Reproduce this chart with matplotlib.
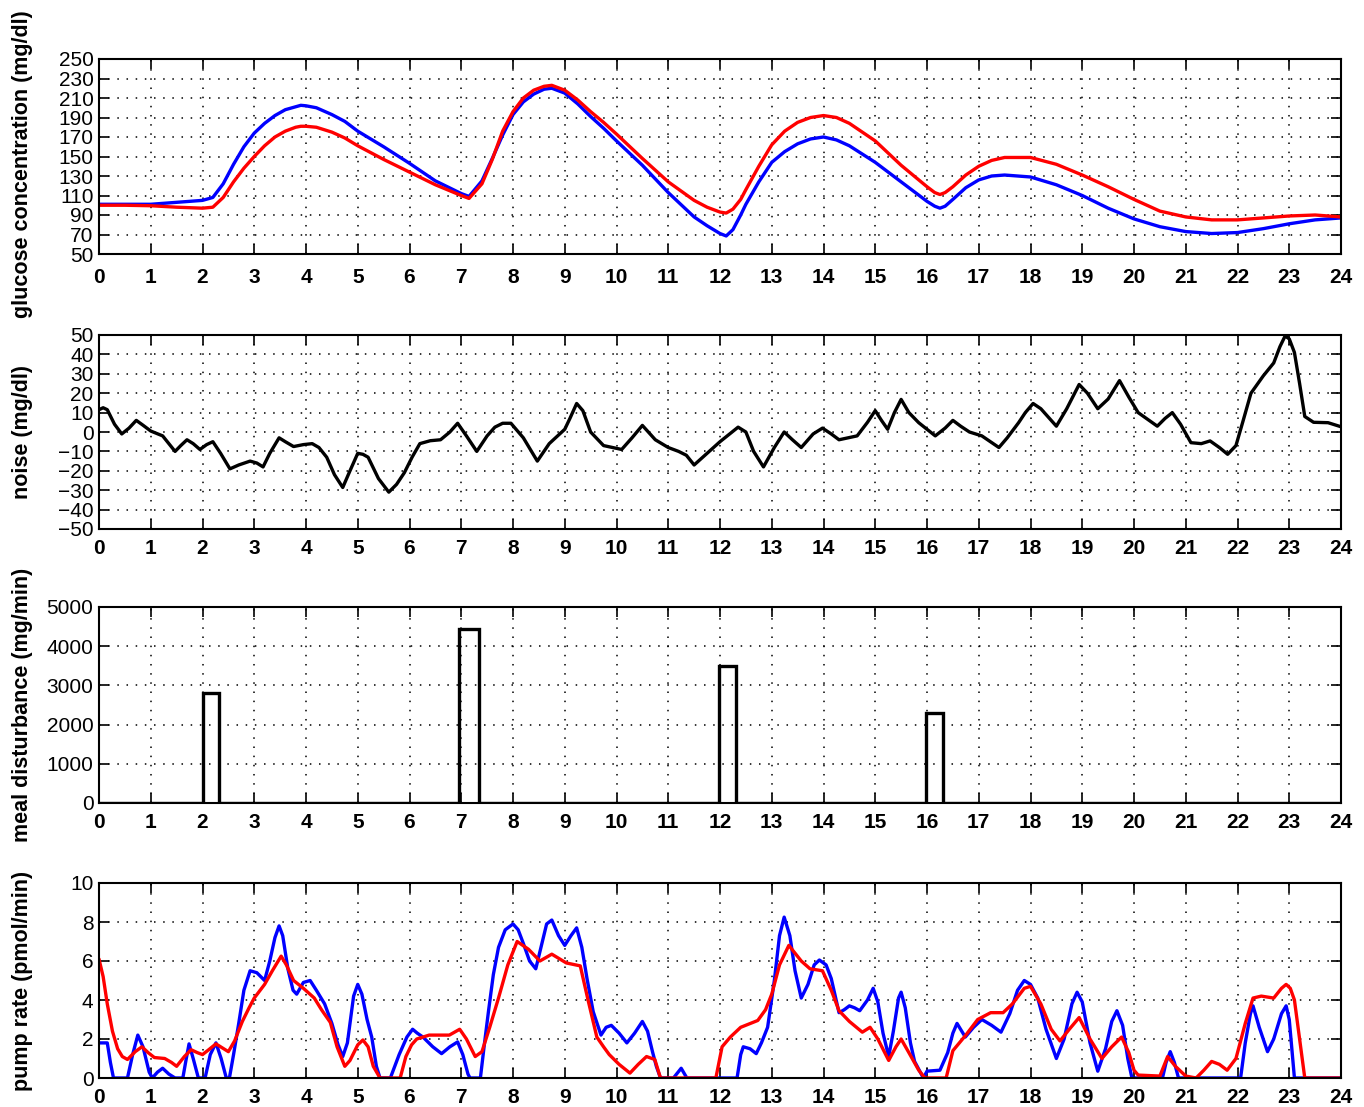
import matplotlib
matplotlib.use("Agg")
import matplotlib.pyplot as plt

plt.rcParams['font.family'] = ['Liberation Sans', 'DejaVu Sans']

# ---------------- data ----------------
hours = list(range(0, 25))

glu_t = [0, 0.5, 1, 1.5, 2, 2.2, 2.4, 2.6, 2.8, 3.0, 3.2, 3.4, 3.6, 3.8, 3.9, 4.0, 4.2, 4.5, 4.75, 5.0, 5.5, 6.0, 6.5,
         7.0, 7.15, 7.4, 7.6, 7.8, 8.0, 8.2, 8.4, 8.6, 8.75, 9.0, 9.25, 9.5, 9.75, 10.0, 10.5, 11.0, 11.5, 11.75,
         12.0, 12.12, 12.25, 12.4, 12.5, 12.75, 13.0, 13.25, 13.5, 13.75, 14.0, 14.25, 14.5, 15.0, 15.5, 16.0,
         16.15, 16.25, 16.35, 16.5, 16.75, 17.0, 17.25, 17.5, 18.0, 18.5, 19.0, 19.5, 20.0, 20.5, 21.0, 21.5,
         22.0, 22.5, 23.0, 23.5, 24.0]
glu_blue = [101, 101, 101, 103, 105, 108, 122, 142, 160, 174, 184, 192, 198, 201, 202.5, 202, 200, 193, 186, 176, 160,
            143, 125, 112, 109, 125, 148, 172, 193, 206, 214, 219, 220, 215, 204, 191, 179, 166, 141, 113, 88, 79,
            71, 68.5, 75, 90, 101, 124, 144, 155, 163, 168, 170, 167, 161, 144, 124, 104,
            99, 97, 99, 106, 118, 126, 130, 131, 129, 121, 110, 97, 86, 78, 73, 71,
            72, 76, 81, 85, 87]
glu_red = [100, 100, 99.5, 98, 97, 98, 108, 124, 138, 150, 161, 170, 176, 180, 181, 181, 180, 175, 169, 161, 147,
           134, 121, 110, 107, 122, 147, 176, 196, 210, 218, 222, 223, 218, 208, 196, 185, 173, 148, 124, 105, 98,
           93, 92, 96, 106, 116, 140, 162, 176, 185, 190, 192, 190, 184, 166, 141, 119,
           113, 111, 113, 119, 131, 140, 146, 149, 149, 142, 131, 119, 106, 94, 88, 85,
           85, 87, 89, 90, 88]

noise_t = [0.0, 0.08, 0.16, 0.3, 0.44, 0.58, 0.72, 0.85, 1.0, 1.23, 1.35, 1.47, 1.58, 1.7, 1.82, 1.95, 2.08, 2.2,
           2.35, 2.53, 2.7, 2.92, 3.05, 3.17, 3.3, 3.48, 3.6, 3.76, 3.95, 4.12, 4.25, 4.4, 4.55, 4.71, 4.85, 5.0,
           5.1, 5.2, 5.4, 5.6, 5.75, 5.9, 6.05, 6.2, 6.4, 6.6, 6.78, 6.93, 7.1, 7.3, 7.5, 7.65, 7.8, 7.96, 8.2,
           8.47, 8.7, 9.0, 9.1, 9.23, 9.35, 9.5, 9.75, 10.1, 10.3, 10.5, 10.75, 11.0, 11.2, 11.35, 11.5, 11.75,
           12.0, 12.35, 12.5, 12.65, 12.84, 13.05, 13.24, 13.4, 13.57, 13.8, 13.98, 14.15, 14.3, 14.65, 14.85,
           15.0, 15.12, 15.24, 15.37, 15.5, 15.65, 15.84, 16.16, 16.35, 16.5, 16.65, 16.82, 17.06, 17.39, 17.55,
           17.77, 17.9, 18.05, 18.2, 18.5, 18.7, 18.94, 19.1, 19.3, 19.5, 19.72, 19.9, 20.08, 20.45, 20.6, 20.74,
           20.9, 21.1, 21.3, 21.47, 21.65, 21.81, 21.97, 22.1, 22.26, 22.5, 22.7, 22.82, 22.92, 23.0, 23.1, 23.2,
           23.3, 23.47, 23.75, 24.0]
noise = [11.5, 12.5, 11.5, 4, -1, 2, 6, 3.5, 0.5, -2, -6, -10, -7, -4, -6, -9, -6.5, -5,
         -11, -19, -17, -15, -16, -18, -11, -3, -5, -7.5, -6.5, -6, -8, -13, -22, -28.6, -20, -11,
         -11.5, -13, -24, -31, -27, -21, -13, -6, -4.5, -4, 0, 4.5, -2, -10, -2, 2.5, 4.5, 4.5, -3,
         -15, -6, 1.4, 7, 14.7, 11, 0, -7, -9, -3, 3.4, -4, -8, -10, -12, -17, -11,
         -5, 2.5, 0, -10, -18, -8, 0, -4, -8, -1, 2, -1, -4, -2, 5,
         11, 6, 1.4, 10, 16.8, 10, 4.8, -2, 2, 6, 3, 0, -2, -8, -3,
         4.8, 10, 14.7, 12, 3, 12, 24.5, 20, 12, 17, 26.5, 18, 10, 3, 7, 10,
         4, -5.5, -6, -4.6, -8, -11.5, -7, 5, 20, 29, 35.6, 44, 49.5, 48, 41, 25,
         8, 5, 4.8, 2.7]

meal_start = [2.0, 6.96, 11.98, 15.98]
meal_end = [2.32, 7.34, 12.3, 16.31]
meal_size = [2800, 4450, 3500, 2300]

pump_blue_t = [0, 0.16, 0.22, 0.28, 0.55, 0.65, 0.75, 0.85, 0.97, 1.03, 1.13, 1.23, 1.35, 1.47, 1.62, 1.68, 1.74,
               1.82, 1.92, 2.05, 2.15, 2.26, 2.36, 2.46, 2.52, 2.6, 2.7, 2.8, 2.92, 3.05, 3.2, 3.3, 3.4, 3.48, 3.55,
               3.65, 3.75, 3.82, 3.95, 4.08, 4.2, 4.36, 4.5, 4.62, 4.71, 4.8, 4.92, 5.0, 5.08, 5.18, 5.27, 5.36,
               5.43, 5.63, 5.8, 5.95, 6.06, 6.15, 6.26, 6.45, 6.62, 6.78, 6.93, 7.03, 7.13, 7.17, 7.37, 7.45, 7.53,
               7.62, 7.72, 7.85, 8.0, 8.1, 8.2, 8.32, 8.44, 8.55, 8.65, 8.75, 8.88, 9.0, 9.12, 9.23, 9.33, 9.43,
               9.55, 9.7, 9.8, 9.9, 10.05, 10.2, 10.35, 10.5, 10.6, 10.7, 10.77, 10.85, 11.1, 11.25, 11.36, 12.33,
               12.4, 12.45, 12.58, 12.7, 12.8, 12.92, 13.05, 13.15, 13.24, 13.35, 13.45, 13.57, 13.7, 13.82, 13.92,
               14.05, 14.15, 14.3, 14.4, 14.5, 14.6, 14.7, 14.85, 14.96, 15.05, 15.15, 15.26, 15.35, 15.45, 15.5,
               15.58, 15.68, 15.76, 15.93, 16.0, 16.25, 16.4, 16.5, 16.58, 16.74, 16.9, 17.06, 17.25, 17.43, 17.6,
               17.75, 17.88, 18.0, 18.14, 18.3, 18.5, 18.65, 18.8, 18.9, 19.0, 19.15, 19.3, 19.45, 19.57, 19.67,
               19.78, 19.88, 19.96, 20.55, 20.62, 20.7, 20.78, 20.86, 22.06, 22.15, 22.25, 22.3, 22.42, 22.58, 22.7,
               22.85, 22.94, 23.0, 23.1, 24.0]
pump_blue = [1.8, 1.8, 0.8, 0, 0, 1.2, 2.2, 1.6, 0.3, 0, 0.3, 0.5, 0.2, 0, 0, 0.9, 1.75,
             1.0, 0, 0, 1.2, 1.8, 1.0, 0, 0, 1.2, 2.8, 4.5, 5.5, 5.4, 5.0, 6.0, 7.2, 7.8, 7.3,
             5.6, 4.5, 4.3, 4.9, 5.0, 4.5, 3.8, 2.8, 1.7, 1.1, 1.8, 4.2, 4.8, 4.3, 3.0, 2.1, 0.6,
             0, 0, 1.2, 2.1, 2.5, 2.3, 2.1, 1.6, 1.25, 1.6, 1.85, 1.2, 0.2, 0, 0, 1.8, 3.5,
             5.3, 6.7, 7.6, 7.9, 7.6, 6.9, 6.0, 5.6, 6.8, 7.9, 8.1, 7.3, 6.8, 7.3, 7.7, 6.7, 5.1,
             3.4, 2.2, 2.6, 2.7, 2.3, 1.8, 2.3, 2.9, 2.4, 1.3, 0.6, 0, 0, 0.5, 0, 0,
             1.2, 1.6, 1.5, 1.25, 1.8, 2.6, 5.0, 7.3, 8.25, 7.3, 5.5, 4.1, 4.8, 5.8, 6.05,
             5.8, 5.1, 3.35, 3.5, 3.7, 3.6, 3.45, 4.0, 4.6, 3.9, 2.3, 1.1, 2.4, 4.1, 4.4,
             3.6, 1.8, 0.85, 0, 0.35, 0.4, 1.3, 2.3, 2.8, 2.1, 2.6, 3.0, 2.7, 2.35, 3.3,
             4.5, 5.0, 4.8, 4.1, 2.5, 1.0, 2.0, 3.8, 4.4, 3.9, 1.8, 0.35, 1.5, 2.9, 3.45,
             2.7, 1.0, 0, 0, 0.8, 1.35, 0.8, 0, 0, 1.8, 3.3, 3.7, 2.6, 1.35, 2.0,
             3.3, 3.7, 3.0, 0, 0]

pump_red_t = [0, 0.08, 0.16, 0.26, 0.36, 0.45, 0.55, 0.7, 0.83, 0.95, 1.07, 1.27, 1.4, 1.5, 1.65, 1.78, 1.9, 2.0,
              2.12, 2.26, 2.38, 2.5, 2.62, 2.77, 2.9, 3.0, 3.2, 3.35, 3.52, 3.62, 3.76, 3.95, 4.16, 4.3, 4.47, 4.6,
              4.75, 4.85, 5.0, 5.1, 5.2, 5.3, 5.43, 5.82, 5.93, 6.04, 6.14, 6.38, 6.77, 6.97, 7.1, 7.27, 7.4, 7.55,
              7.72, 7.9, 8.08, 8.3, 8.52, 8.75, 9.03, 9.3, 9.45, 9.62, 9.75, 9.86, 10.05, 10.26, 10.42, 10.58,
              10.74, 10.85, 11.92, 12.04, 12.2, 12.4, 12.73, 12.88, 13.0, 13.15, 13.33, 13.45, 13.57, 13.74,
              13.98, 14.15, 14.3, 14.5, 14.75, 14.9, 15.05, 15.26, 15.4, 15.5, 15.65, 15.84, 15.96, 16.37, 16.5,
              16.75, 16.98, 17.23, 17.47, 17.65, 17.88, 18.0, 18.2, 18.4, 18.57, 18.75, 18.94, 19.15, 19.38,
              19.57, 19.76, 19.9, 20.0, 20.08, 20.5, 20.65, 20.8, 21.0, 21.2, 21.35, 21.5, 21.65, 21.8, 21.97,
              22.15, 22.3, 22.46, 22.7, 22.85, 22.94, 23.02, 23.1, 23.2, 23.3, 24.0]
pump_red = [6.1, 5.2, 3.8, 2.4, 1.5, 1.1, 0.95, 1.35, 1.6, 1.3, 1.05, 1.0, 0.8, 0.6, 1.1, 1.45, 1.3, 1.2,
            1.45, 1.75, 1.55, 1.35, 1.9, 2.9, 3.6, 4.1, 4.8, 5.5, 6.25, 5.8, 5.0, 4.6, 4.1, 3.5, 2.85, 1.6,
            0.6, 0.9, 1.7, 1.95, 1.6, 0.6, 0, 0, 1.1, 1.7, 2.0, 2.2, 2.2, 2.5, 2.0, 1.1, 1.35, 2.6,
            4.1, 5.8, 7.0, 6.6, 6.0, 6.35, 5.9, 5.75, 4.0, 2.1, 1.6, 1.2, 0.7, 0.25, 0.7, 1.1,
            0.95, 0, 0, 1.6, 2.1, 2.6, 2.95, 3.5, 4.3, 5.8, 6.8, 6.4, 6.0, 5.6,
            5.5, 4.5, 3.45, 2.9, 2.35, 2.6, 2.0, 0.9, 1.6, 2.0, 1.3, 0.4, 0, 0, 1.4,
            2.2, 3.0, 3.35, 3.35, 3.8, 4.6, 4.7, 3.8, 2.5, 1.9, 2.5, 3.1, 2.0, 1.0,
            1.6, 2.1, 1.3, 0.4, 0.15, 0.1, 1.1, 0.6, 0.1, 0, 0.4, 0.85, 0.7, 0.4, 1.0,
            2.8, 4.1, 4.2, 4.1, 4.6, 4.8, 4.6, 4.0, 2.0, 0, 0]

# ---------------- figure ----------------
fig = plt.figure(figsize=(13.64, 11.07), dpi=100)
L, W = 99 / 1364, (1341 - 99) / 1364
rows = [(59, 254), (335, 529), (607, 803), (883, 1078)]
axes = []
for top, bot in rows:
    ax = fig.add_axes([L, 1 - bot / 1107, W, (bot - top) / 1107])
    axes.append(ax)

BLUE = '#0000ff'
RED = '#ff0000'
LW = 2.4
kw = dict(lw=LW, solid_joinstyle='round', solid_capstyle='round')

ax1, ax2, ax3, ax4 = axes
ax1.plot(glu_t, glu_blue, color=BLUE, **kw)
ax1.plot(glu_t, glu_red, color=RED, **kw)
ax1.set_ylim(50, 250)
ax1.set_yticks(list(range(50, 251, 20)))
ax1.set_ylabel('glucose concentration (mg/dl)')

ax2.plot(noise_t, noise, color='black', **kw)
ax2.set_ylim(-50, 50)
ax2.set_yticks(list(range(-50, 51, 10)))
ax2.set_ylabel('noise (mg/dl)')

# meal step trace built from the meal table
mx, my = [0.0], [0.0]
for s, e, h in zip(meal_start, meal_end, meal_size):
    mx += [s, s, e, e]
    my += [0, h, h, 0]
mx.append(24.0)
my.append(0.0)
ax3.plot(mx, my, color='black', lw=LW, solid_joinstyle='miter')
ax3.set_ylim(0, 5000)
ax3.set_yticks(list(range(0, 5001, 1000)))
ax3.set_ylabel('meal disturbance (mg/min)')

ax4.plot(pump_blue_t, pump_blue, color=BLUE, **kw)
ax4.plot(pump_red_t, pump_red, color=RED, **kw)
ax4.set_ylim(0, 10)
ax4.set_yticks(list(range(0, 11, 2)))
ax4.set_ylabel('pump rate (pmol/min)')

for ax in axes:
    ax.set_xlim(0, 24)
    ax.set_xticks(hours)
    ax.set_xticklabels([str(h) for h in hours], fontsize=15, fontweight='bold')
    for lab in ax.get_yticklabels():
        lab.set_fontsize(15)
    ax.tick_params(direction='in', length=7, width=1.2, top=True, right=True, pad=4)
    ax.tick_params(axis='x', pad=7)
    ax.grid(True, color='black', linestyle=(0, (1, 5)), lw=1.1)
    for sp in ax.spines.values():
        sp.set_linewidth(1.5)
    ax.yaxis.label.set_fontsize(15.5)
    ax.yaxis.label.set_fontweight('bold')
    ax.yaxis.set_label_coords(-0.053, 0.5)

ax1.yaxis.set_label_coords(-0.053, 0.46)
ax1.tick_params(axis='x', pad=10)

fig.savefig('out.png', dpi=100)
